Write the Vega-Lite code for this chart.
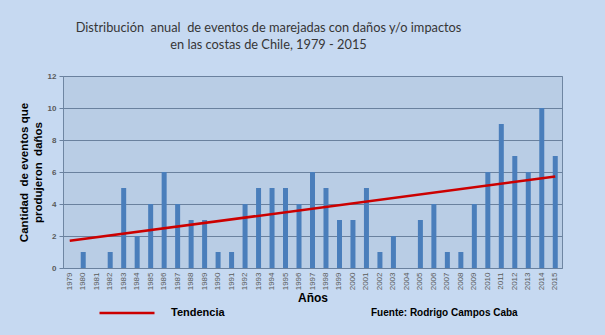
{
  "$schema": "https://vega.github.io/schema/vega-lite/v6.json",
  "width": 499,
  "height": 192,
  "autosize": {"type": "none"},
  "padding": {"left": 63, "top": 76, "right": 43, "bottom": 67},
  "background": "#c6d9f1",
  "title": {
    "text": ["Distribución\u00a0 anual\u00a0 de eventos de marejadas con daños y/o impactos", "en las costas de Chile, 1979 - 2015"],
    "font": "Lato",
    "fontSize": 12.8,
    "fontWeight": "normal",
    "color": "#363636",
    "anchor": "middle",
    "dx": -44,
    "offset": 20,
    "lineHeight": 17
  },
  "config": {
    "view": {"fill": "#b9cde5", "stroke": "#6f86a2", "strokeWidth": 1},
    "axis": {"labelFont": "Liberation Sans", "titleFont": "Liberation Sans"}
  },
  "datasets": {
    "eventos": [
      {"anio": "1979", "eventos": 0}, {"anio": "1980", "eventos": 1}, {"anio": "1981", "eventos": 0},
      {"anio": "1982", "eventos": 1}, {"anio": "1983", "eventos": 5}, {"anio": "1984", "eventos": 2},
      {"anio": "1985", "eventos": 4}, {"anio": "1986", "eventos": 6}, {"anio": "1987", "eventos": 4},
      {"anio": "1988", "eventos": 3}, {"anio": "1989", "eventos": 3}, {"anio": "1990", "eventos": 1},
      {"anio": "1991", "eventos": 1}, {"anio": "1992", "eventos": 4}, {"anio": "1993", "eventos": 5},
      {"anio": "1994", "eventos": 5}, {"anio": "1995", "eventos": 5}, {"anio": "1996", "eventos": 4},
      {"anio": "1997", "eventos": 6}, {"anio": "1998", "eventos": 5}, {"anio": "1999", "eventos": 3},
      {"anio": "2000", "eventos": 3}, {"anio": "2001", "eventos": 5}, {"anio": "2002", "eventos": 1},
      {"anio": "2003", "eventos": 2}, {"anio": "2004", "eventos": 0}, {"anio": "2005", "eventos": 3},
      {"anio": "2006", "eventos": 4}, {"anio": "2007", "eventos": 1}, {"anio": "2008", "eventos": 1},
      {"anio": "2009", "eventos": 4}, {"anio": "2010", "eventos": 6}, {"anio": "2011", "eventos": 9},
      {"anio": "2012", "eventos": 7}, {"anio": "2013", "eventos": 6}, {"anio": "2014", "eventos": 10},
      {"anio": "2015", "eventos": 7}
    ],
    "tendencia": [
      {"anio": "1979", "valor": 1.7, "serie": "Tendencia"},
      {"anio": "2015", "valor": 5.72, "serie": "Tendencia"}
    ]
  },
  "layer": [
    {
      "data": {"name": "eventos"},
      "mark": {"type": "bar", "color": "#4a7ebb", "size": 5},
      "encoding": {
        "x": {
          "field": "anio", "type": "ordinal",
          "scale": {"paddingInner": 0, "paddingOuter": 0},
          "axis": {
            "title": "Años", "titleFontSize": 12, "titleFontWeight": "bold", "titleColor": "#000000", "titlePadding": 3,
            "labelAngle": -90, "labelFontSize": 8, "labelColor": "#595959", "labelPadding": 4,
            "ticks": false, "domain": false
          }
        },
        "y": {
          "field": "eventos", "type": "quantitative",
          "scale": {"domain": [0, 12], "nice": false},
          "axis": {
            "values": [0, 2, 4, 6, 8, 10, 12],
            "tickCount": 7,
            "labelOverlap": false,
            "title": ["Cantidad\u00a0 de eventos que", "produjeron\u00a0 daños"],
            "titleFontSize": 11.5, "titleFontWeight": "bold", "titleColor": "#000000", "titlePadding": 4, "titleLineHeight": 14,
            "labelFontSize": 8, "labelFontWeight": "bold", "labelColor": "#595959", "labelPadding": 3,
            "tickSize": 4, "tickColor": "#6a819e", "domain": false,
            "grid": true, "gridColor": "#6a819e", "gridWidth": 1.2
          }
        }
      }
    },
    {
      "data": {"name": "tendencia"},
      "mark": {"type": "line", "strokeWidth": 2.5},
      "encoding": {
        "x": {"field": "anio", "type": "ordinal"},
        "y": {
          "field": "valor", "type": "quantitative",
          "axis": {
            "values": [0, 2, 4, 6, 8, 10, 12],
            "tickCount": 7,
            "labelOverlap": false,
            "title": ["Cantidad\u00a0 de eventos que", "produjeron\u00a0 daños"],
            "titleFontSize": 11.5, "titleFontWeight": "bold", "titleColor": "#000000", "titlePadding": 4, "titleLineHeight": 14,
            "labelFontSize": 8, "labelFontWeight": "bold", "labelColor": "#595959", "labelPadding": 3,
            "tickSize": 4, "tickColor": "#6a819e", "domain": false,
            "grid": true, "gridColor": "#6a819e", "gridWidth": 1.2
          }
        },
        "color": {
          "field": "serie", "type": "nominal",
          "scale": {"range": ["#cc0000"]},
          "legend": {
            "orient": "none", "legendX": 35, "legendY": 208,
            "title": "Fuente: Rodrigo Campos Caba", "titleOrient": "right", "titlePadding": 146,
            "titleFont": "Liberation Sans", "titleFontSize": 10, "titleFontWeight": "bold", "titleColor": "#000000",
            "titleAnchor": "end", "titleBaseline": "bottom",
            "symbolType": "stroke", "symbolSize": 3025, "symbolStrokeWidth": 2.5,
            "labelFont": "Liberation Sans", "labelFontSize": 11, "labelFontWeight": "bold", "labelColor": "#000000", "labelOffset": 15,
            "padding": 0
          }
        }
      }
    }
  ]
}
